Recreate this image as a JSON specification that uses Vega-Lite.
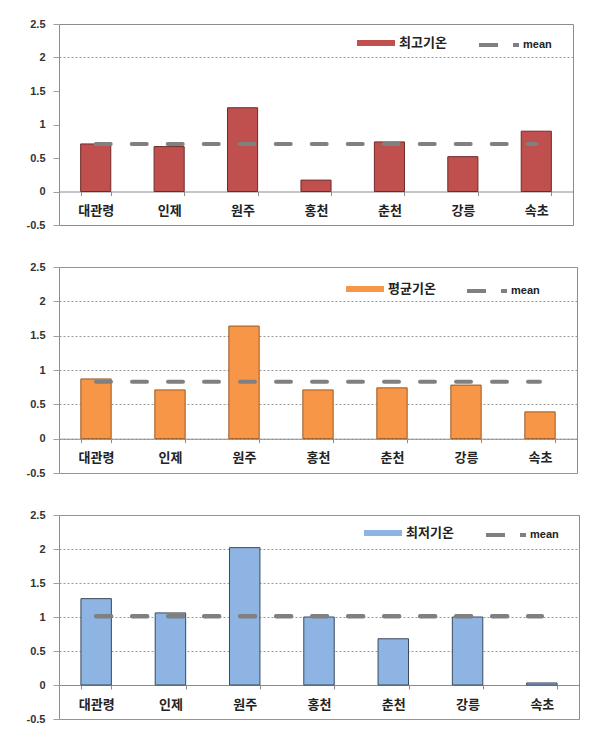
{
  "$schema": "https://vega.github.io/schema/vega-lite/v6.json",
  "background": "white",
  "padding": {"left": 25, "top": 17, "right": 5, "bottom": 5},
  "bounds": "flush",
  "spacing": 42,
  "resolve": {
    "scale": {"fill": "independent", "stroke": "independent"},
    "legend": {"fill": "independent", "stroke": "independent"}
  },
  "config": {
    "view": {"stroke": "#8c8c8c", "strokeWidth": 1},
    "axisY": {
      "values": [-0.5, 0, 0.5, 1, 1.5, 2, 2.5],
      "labelExpr": "'' + datum.value",
      "domain": false,
      "ticks": true,
      "tickSize": 6,
      "tickColor": "#a0a0a0",
      "grid": true,
      "gridDash": [2, 2],
      "gridColor": "#9a9a9a",
      "labelFont": "Liberation Sans",
      "labelFontWeight": "bold",
      "labelFontSize": 11,
      "labelColor": "#333333",
      "labelPadding": 8,
      "title": null
    },
    "axisX": {
      "domainColor": "#8c8c8c",
      "tickBand": "extent",
      "tickSize": 4,
      "tickColor": "#8c8c8c",
      "labelFont": "Noto Sans CJK KR",
      "labelFontWeight": "bold",
      "labelFontSize": 13,
      "labelColor": "#222222",
      "labelPadding": 9,
      "labelAngle": 0,
      "title": null
    }
  },
  "datasets": {
    "max": [
      {"station": "대관령", "value": 0.71, "mean": 0.71, "series": "최고기온"},
      {"station": "인제", "value": 0.67, "mean": 0.71, "series": "최고기온"},
      {"station": "원주", "value": 1.25, "mean": 0.71, "series": "최고기온"},
      {"station": "홍천", "value": 0.17, "mean": 0.71, "series": "최고기온"},
      {"station": "춘천", "value": 0.74, "mean": 0.71, "series": "최고기온"},
      {"station": "강릉", "value": 0.52, "mean": 0.71, "series": "최고기온"},
      {"station": "속초", "value": 0.90, "mean": 0.71, "series": "최고기온"}
    ],
    "avg": [
      {"station": "대관령", "value": 0.87, "mean": 0.83, "series": "평균기온"},
      {"station": "인제", "value": 0.71, "mean": 0.83, "series": "평균기온"},
      {"station": "원주", "value": 1.64, "mean": 0.83, "series": "평균기온"},
      {"station": "홍천", "value": 0.71, "mean": 0.83, "series": "평균기온"},
      {"station": "춘천", "value": 0.74, "mean": 0.83, "series": "평균기온"},
      {"station": "강릉", "value": 0.78, "mean": 0.83, "series": "평균기온"},
      {"station": "속초", "value": 0.39, "mean": 0.83, "series": "평균기온"}
    ],
    "min": [
      {"station": "대관령", "value": 1.27, "mean": 1.01, "series": "최저기온"},
      {"station": "인제", "value": 1.06, "mean": 1.01, "series": "최저기온"},
      {"station": "원주", "value": 2.02, "mean": 1.01, "series": "최저기온"},
      {"station": "홍천", "value": 1.0, "mean": 1.01, "series": "최저기온"},
      {"station": "춘천", "value": 0.68, "mean": 1.01, "series": "최저기온"},
      {"station": "강릉", "value": 1.0, "mean": 1.01, "series": "최저기온"},
      {"station": "속초", "value": 0.03, "mean": 1.01, "series": "최저기온"}
    ]
  },
  "vconcat": [
    {
      "width": 514,
      "height": 201,
      "data": {"name": "max"},
      "encoding": {
        "x": {"field": "station", "type": "nominal", "sort": null,
              "scale": {"paddingInner": 0.59, "paddingOuter": 0.295},
              "axis": {"offset": -33.5}}
      },
      "layer": [
        {
          "mark": {"type": "bar", "stroke": "#6e2a28", "strokeWidth": 1},
          "encoding": {
            "y": {"field": "value", "type": "quantitative", "scale": {"domain": [-0.5, 2.5], "nice": false},
                  "axis": {"gridOpacity": {"condition": {"test": "datum.value === 2", "value": 1}, "value": 0}}},
            "fill": {"field": "series", "type": "nominal", "scale": {"range": ["#C0504D"]},
                     "legend": {"orient": "none", "legendX": 298, "legendY": 0, "direction": "horizontal", "title": null,
                                "symbolType": "M-1,-0.16H1V0.16H-1Z", "symbolSize": 1444, "symbolStrokeWidth": 0,
                                "labelFont": "Noto Sans CJK KR", "labelFontWeight": "bold", "labelFontSize": 13, "labelColor": "#222222", "labelOffset": 4, "padding": 0}}
          }
        },
        {
          "mark": {"type": "line", "strokeDash": [15, 21], "strokeWidth": 4, "strokeCap": "round"},
          "encoding": {
            "y": {"field": "mean", "type": "quantitative"},
            "stroke": {"datum": "mean", "type": "nominal", "scale": {"range": ["#808080"]},
                       "legend": {"orient": "none", "legendX": 418, "legendY": -1, "direction": "horizontal", "title": null,
                                  "symbolType": "stroke", "symbolSize": 1600, "symbolStrokeWidth": 4, "symbolDash": [19, 15],
                                  "labelFont": "Liberation Sans", "labelFontWeight": "bold", "labelFontSize": 11, "labelColor": "#222222", "labelOffset": 2, "padding": 0}}
          }
        }
      ]
    },
    {
      "width": 518,
      "height": 206,
      "data": {"name": "avg"},
      "encoding": {
        "x": {"field": "station", "type": "nominal", "sort": null,
              "scale": {"paddingInner": 0.59, "paddingOuter": 0.295},
              "axis": {"offset": -34.3}}
      },
      "layer": [
        {
          "mark": {"type": "bar", "stroke": "#9a5a26", "strokeWidth": 1},
          "encoding": {
            "y": {"field": "value", "type": "quantitative", "scale": {"domain": [-0.5, 2.5], "nice": false}},
            "fill": {"field": "series", "type": "nominal", "scale": {"range": ["#F79646"]},
                     "legend": {"orient": "none", "legendX": 287, "legendY": 3, "direction": "horizontal", "title": null,
                                "symbolType": "M-1,-0.16H1V0.16H-1Z", "symbolSize": 1444, "symbolStrokeWidth": 0,
                                "labelFont": "Noto Sans CJK KR", "labelFontWeight": "bold", "labelFontSize": 13, "labelColor": "#222222", "labelOffset": 4, "padding": 0}}
          }
        },
        {
          "mark": {"type": "line", "strokeDash": [15, 21], "strokeWidth": 4, "strokeCap": "round"},
          "encoding": {
            "y": {"field": "mean", "type": "quantitative"},
            "stroke": {"datum": "mean", "type": "nominal", "scale": {"range": ["#808080"]},
                       "legend": {"orient": "none", "legendX": 406, "legendY": 2, "direction": "horizontal", "title": null,
                                  "symbolType": "stroke", "symbolSize": 1600, "symbolStrokeWidth": 4, "symbolDash": [19, 15],
                                  "labelFont": "Liberation Sans", "labelFontWeight": "bold", "labelFontSize": 11, "labelColor": "#222222", "labelOffset": 2, "padding": 0}}
          }
        }
      ]
    },
    {
      "width": 520,
      "height": 204,
      "data": {"name": "min"},
      "encoding": {
        "x": {"field": "station", "type": "nominal", "sort": null,
              "scale": {"paddingInner": 0.59, "paddingOuter": 0.295},
              "axis": {"offset": -34}}
      },
      "layer": [
        {
          "mark": {"type": "bar", "stroke": "#3b4a5c", "strokeWidth": 1},
          "encoding": {
            "y": {"field": "value", "type": "quantitative", "scale": {"domain": [-0.5, 2.5], "nice": false}},
            "fill": {"field": "series", "type": "nominal", "scale": {"range": ["#8DB4E2"]},
                     "legend": {"orient": "none", "legendX": 305, "legendY": -1, "direction": "horizontal", "title": null,
                                "symbolType": "M-1,-0.16H1V0.16H-1Z", "symbolSize": 1444, "symbolStrokeWidth": 0,
                                "labelFont": "Noto Sans CJK KR", "labelFontWeight": "bold", "labelFontSize": 13, "labelColor": "#222222", "labelOffset": 4, "padding": 0}}
          }
        },
        {
          "mark": {"type": "line", "strokeDash": [15, 21], "strokeWidth": 4.5, "strokeCap": "round"},
          "encoding": {
            "y": {"field": "mean", "type": "quantitative"},
            "stroke": {"datum": "mean", "type": "nominal", "scale": {"range": ["#808080"]},
                       "legend": {"orient": "none", "legendX": 425, "legendY": -2, "direction": "horizontal", "title": null,
                                  "symbolType": "stroke", "symbolSize": 1600, "symbolStrokeWidth": 4, "symbolDash": [19, 15],
                                  "labelFont": "Liberation Sans", "labelFontWeight": "bold", "labelFontSize": 11, "labelColor": "#222222", "labelOffset": 2, "padding": 0}}
          }
        }
      ]
    }
  ]
}
